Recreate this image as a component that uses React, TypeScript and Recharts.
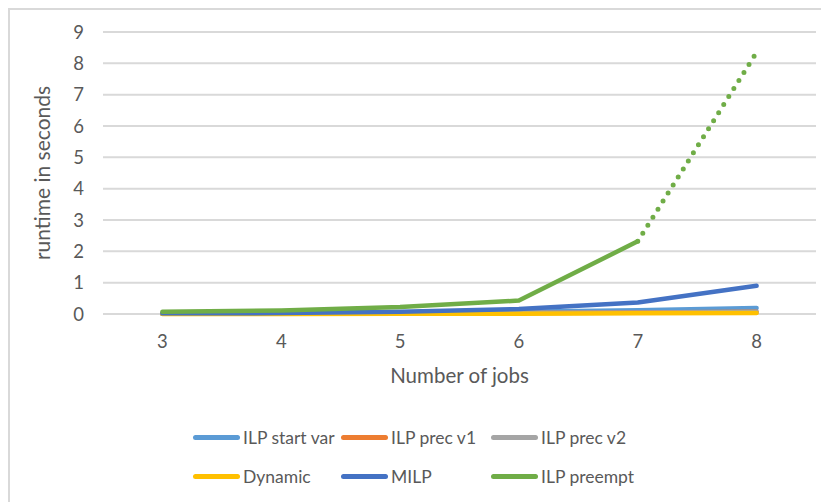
import React from "react";
import { LineChart, Line, XAxis, YAxis, CartesianGrid } from "recharts";

// Number of jobs on the x axis
const jobs = [3, 4, 5, 6, 7, 8];

// Runtime in seconds per method
const ilpStartVar = [0.01, 0.02, 0.04, 0.07, 0.12, 0.19];
const ilpPrecV1 = [0.01, 0.01, 0.02, 0.03, 0.05, 0.07];
const ilpPrecV2 = [0.01, 0.01, 0.02, 0.03, 0.04, 0.06];
const dynamic = [0.0, 0.0, 0.01, 0.01, 0.02, 0.03];
const milp = [0.02, 0.03, 0.07, 0.16, 0.37, 0.9];
const ilpPreempt = [0.07, 0.11, 0.22, 0.43, 2.32, 8.35];
// ILP preempt is measured up to 7 jobs; the last segment is drawn dotted
const preemptSolidUntil = 7;

const yTicks = [0, 1, 2, 3, 4, 5, 6, 7, 8, 9];

const series = [
  { key: "startVar", name: "ILP start var", values: ilpStartVar, color: "#5B9BD5" },
  { key: "precV1", name: "ILP prec v1", values: ilpPrecV1, color: "#ED7D31" },
  { key: "precV2", name: "ILP prec v2", values: ilpPrecV2, color: "#A5A5A5" },
  { key: "dynamic", name: "Dynamic", values: dynamic, color: "#FFC000" },
  { key: "milp", name: "MILP", values: milp, color: "#4472C4" },
  { key: "preempt", name: "ILP preempt", values: ilpPreempt, color: "#70AD47" },
];

const data = jobs.map((j, i) => {
  const row: Record<string, number | string | null> = { jobs: String(j) };
  series.forEach((s) => {
    if (s.key !== "preempt") row[s.key] = s.values[i];
  });
  row.preemptSolid = j <= preemptSolidUntil ? ilpPreempt[i] : null;
  row.preemptDotted = j >= preemptSolidUntil ? ilpPreempt[i] : null;
  return row;
});

const FONT = "Lato, 'Liberation Sans', sans-serif";
const TEXT = "#595959";

export default function App() {
  const W = 819;
  const H = 492;
  // half of one category band, so points sit in the middle of each band
  const halfBand = (W - 93 - 13) / jobs.length / 2;
  return (
    <div
      style={{
        position: "relative",
        width: 821,
        height: 494,
        boxSizing: "border-box",
        borderLeft: "2px solid #d9d9d9",
        borderTop: "2px solid #d9d9d9",
        fontFamily: FONT,
      }}
    >
      <LineChart
        width={W}
        height={H}
        data={data}
        margin={{ top: 22, right: 13, left: 0, bottom: 0 }}
        style={{ fontFamily: FONT }}
      >
        <CartesianGrid vertical={false} stroke="#d9d9d9" strokeWidth={2} />
        <XAxis
          dataKey="jobs"
          height={188}
          padding={{ left: halfBand, right: halfBand }}
          axisLine={false}
          tickLine={false}
          tickMargin={15}
          tick={{ fill: TEXT, fontSize: 18.5 }}
          label={{
            value: "Number of jobs",
            position: "insideTop",
            offset: 54,
            fill: TEXT,
            fontSize: 20.5,
          }}
        />
        <YAxis
          width={93}
          domain={[0, 9]}
          ticks={yTicks}
          axisLine={false}
          tickLine={false}
          tickMargin={13}
          tick={{ fill: TEXT, fontSize: 18.5 }}
          label={{
            value: "runtime in seconds",
            angle: -90,
            position: "insideLeft",
            offset: 33,
            style: { textAnchor: "middle" },
            fill: TEXT,
            fontSize: 21,
          }}
        />
        {series
          .filter((s) => s.key !== "preempt")
          .map((s) => (
            <Line
              key={s.key}
              dataKey={s.key}
              name={s.name}
              stroke={s.color}
              strokeWidth={4.5}
              strokeLinecap="round"
              strokeLinejoin="round"
              dot={false}
              activeDot={false}
              isAnimationActive={false}
            />
          ))}
        <Line
          dataKey="preemptSolid"
          name="ILP preempt"
          stroke="#70AD47"
          strokeWidth={4.5}
          strokeLinecap="round"
          strokeLinejoin="round"
          dot={false}
          activeDot={false}
          isAnimationActive={false}
        />
        <Line
          dataKey="preemptDotted"
          name="ILP preempt"
          legendType="none"
          stroke="#70AD47"
          strokeWidth={5}
          strokeLinecap="round"
          strokeDasharray="0 9.5"
          dot={false}
          activeDot={false}
          isAnimationActive={false}
        />
      </LineChart>
      {series.map((s, i) => {
        const col = i % 3;
        const row = Math.floor(i / 3);
        const left = [183, 331, 481][col];
        const top = [427, 466][row];
        return (
          <div
            key={s.key}
            style={{
              position: "absolute",
              left,
              top: top - 12,
              height: 24,
              display: "flex",
              alignItems: "center",
              whiteSpace: "nowrap",
              fontSize: 17.5,
              color: TEXT,
            }}
          >
            <span
              style={{
                display: "inline-block",
                width: 47,
                height: 5,
                borderRadius: 3,
                background: s.color,
                marginRight: 3,
              }}
            />
            {s.name}
          </div>
        );
      })}
    </div>
  );
}
